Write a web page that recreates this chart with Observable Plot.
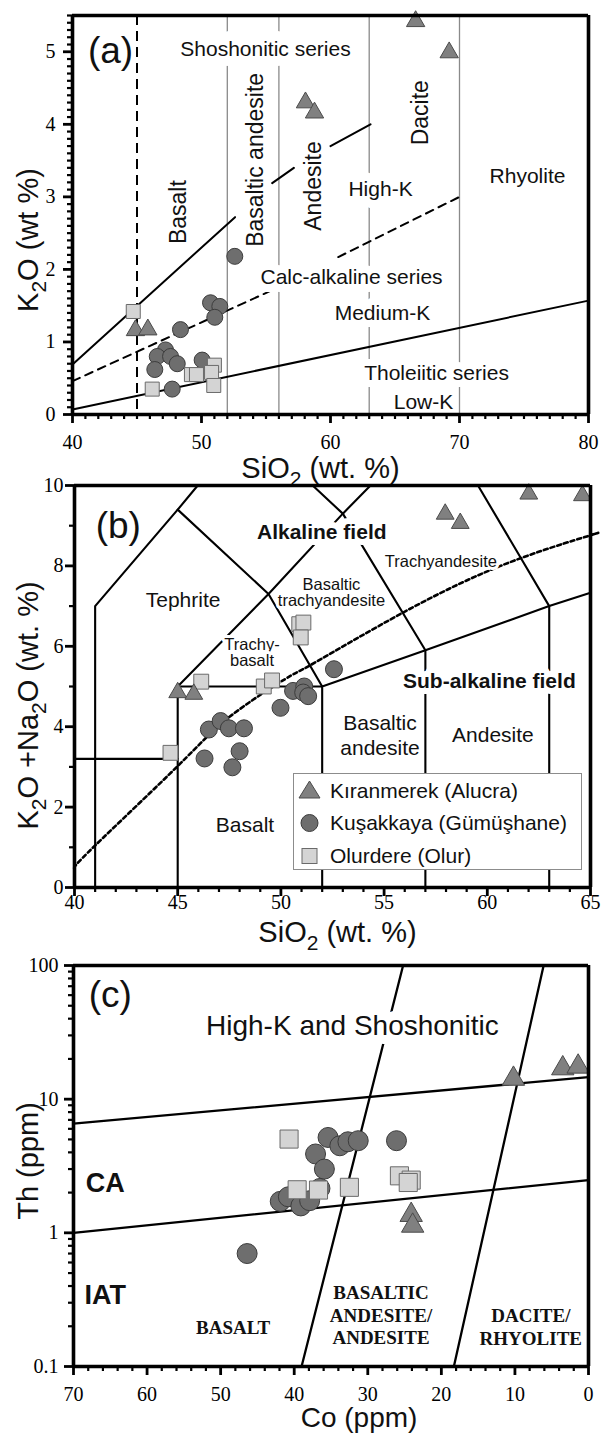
<!DOCTYPE html>
<html>
<head>
<meta charset="utf-8">
<script src="https://cdn.jsdelivr.net/npm/d3@7"></script>
<script src="https://cdn.jsdelivr.net/npm/@observablehq/plot@0.6"></script>
<style>
  html, body { margin: 0; padding: 0; background: #fff; }
  #wrap { position: relative; width: 602px; height: 1436px; overflow: hidden; }
  #wrap svg { display: block; }
  #legend { position: absolute; left: 293px; top: 773px; width: 287px; height: 95px;
            border: 1.5px solid #8c8c8c; background: #fff;
            font-family: "Liberation Sans", Arial, sans-serif; font-size: 21px; color: #111; }
  #legend .row { position: absolute; left: 0; height: 30px; display: flex; align-items: center; white-space: nowrap; }
  #legend .row span { margin-left: 5px; }
</style>
</head>
<body>
<div id="wrap"></div>
<script>
// ================= DATA =================
// ---- Panel (a): K2O vs SiO2 ----
const aTriSiO2 = [66.6, 69.2, 58.06, 58.76, 44.88, 45.84];
const aTriK2O  = [5.42, 4.99, 4.30, 4.16, 1.16, 1.17];
const aCirSiO2 = [52.58, 50.70, 51.42, 51.03, 48.37, 47.21, 46.57, 47.60, 48.12, 46.38, 50.05, 47.73];
const aCirK2O  = [2.18, 1.54, 1.49, 1.34, 1.17, 0.89, 0.80, 0.80, 0.70, 0.62, 0.75, 0.35];
const aSqSiO2  = [44.71, 46.18, 49.22, 49.61, 51.0, 50.78, 50.95];
const aSqK2O   = [1.42, 0.35, 0.55, 0.55, 0.68, 0.58, 0.40];
// series boundaries (NaN = gap)
const aShoSiO2   = [40, 52.6, NaN, 55.48, 57.16, NaN, 60.0, 63.1];
const aShoK2O    = [0.69, 2.72, NaN, 3.19, 3.40, NaN, 3.70, 4.0];
const aHighKSiO2 = [40, 55.3, NaN, 60.6, 70];
const aHighKK2O  = [0.46, 1.70, NaN, 2.17, 3.0];
const aLowKSiO2  = [40, 80];
const aLowKK2O   = [0.07, 1.57];
const aRockSiO2  = [52, 56, 63, 70];
const aUltraSiO2 = [45];
const aXTicks = [40, 50, 60, 70, 80];
const aXMinor = [41,42,43,44,45,46,47,48,49,51,52,53,54,55,56,57,58,59,61,62,63,64,65,66,67,68,69,71,72,73,74,75,76,77,78,79];
const aYTicks = [0, 1, 2, 3, 4, 5];
const aYMinor = [0.1,0.2,0.3,0.4,0.5,0.6,0.7,0.8,0.9,1.1,1.2,1.3,1.4,1.5,1.6,1.7,1.8,1.9,2.1,2.2,2.3,2.4,2.5,2.6,2.7,2.8,2.9,3.1,3.2,3.3,3.4,3.5,3.6,3.7,3.8,3.9,4.1,4.2,4.3,4.4,4.5,4.6,4.7,4.8,4.9,5.1,5.2,5.3,5.4,5.5];
const aLabelText = ["Shoshonitic series", "High-K", "Rhyolite", "Calc-alkaline series", "Medium-K", "Tholeiitic series", "Low-K"];
const aLabelX    = [54.96, 63.88, 75.27, 61.63, 64.03, 68.22, 67.21];
const aLabelY    = [5.03, 3.10, 3.28, 1.89, 1.40, 0.57, 0.17];
const aLabelHalo = [20, 17, 8, 16, 14, 14, 5];
const aRotText = ["Basalt", "Basaltic andesite", "Andesite", "Dacite"];
const aRotX    = [48.2, 54.19, 58.68, 66.98];
const aRotY    = [2.79, 3.51, 3.15, 4.16];

// ---- Panel (b): TAS ----
const bTriSiO2 = [45.0, 45.78, 57.96, 58.69, 62.01, 64.61];
const bTriTA   = [4.85, 4.81, 9.29, 9.06, 9.79, 9.75];
const bCirSiO2 = [46.30, 46.51, 47.08, 47.48, 48.21, 48.0, 47.65, 49.98, 50.59, 51.13, 51.08, 51.32, 52.57];
const bCirTA   = [3.21, 3.93, 4.14, 3.96, 3.96, 3.39, 2.99, 4.47, 4.89, 5.0, 4.85, 4.76, 5.43];
const bSqSiO2  = [44.65, 46.14, 49.17, 49.57, 50.89, 51.09, 50.96];
const bSqTA    = [3.35, 5.12, 5.0, 5.15, 6.55, 6.59, 6.22];
// TAS boundaries (SiO2, Na2O+K2O vertices)
const tas1 = [[41,0],[41,7],[45,9.4],[45.97,10]];
const tas2 = [[40,3.2],[45,3.2]];
const tas3 = [[45,0],[45,5],[52,5]];
const tas4 = [[45,5],[49.4,7.3],[53,9.3],[54.34,10]];
const tas5 = [[45,9.4],[49.4,7.3],[52,5]];
const tas6 = [[52,0],[52,5],[57,5.9],[63,7],[65,7.33]];
const tas7 = [[57,0],[57,5.9],[53,9.3],[51.54,10]];
const tas8 = [[63,0],[63,7],[59.55,10]];
// alkaline / sub-alkaline divide
const bDivSiO2 = [39.98, 40.95, 45.0, 47.35, 49.78, 50.92, 52.21, 55.78, 60.64, 64.93, 65];
const bDivTA   = [0.48, 1.02, 3.02, 4.18, 5.05, 5.39, 5.76, 6.8, 8.0, 8.75, 8.77];
const bXTicks = [40, 45, 50, 55, 60, 65];
const bXMinor = [41,42,43,44,46,47,48,49,51,52,53,54,56,57,58,59,61,62,63,64];
const bYTicks = [0, 2, 4, 6, 8, 10];
const bYMinor = [1, 3, 5, 7, 9];
const bLabelText = ["Tephrite", "Basaltic\nandesite", "Andesite", "Basalt"];
const bLabelX    = [45.26, 54.8, 60.27, 48.26];
const bLabelY    = [7.17, 3.8, 3.81, 1.58];
const bBoldText  = ["Alkaline field", "Sub-alkaline field"];
const bBoldX     = [51.98, 60.1];
const bBoldY     = [8.84, 5.12];
const bSmallText = ["Basaltic\ntrachyandesite", "Trachyandesite", "Trachy-\nbasalt"];
const bSmallX    = [52.45, 57.75, 48.6];
const bSmallY    = [7.33, 8.11, 5.84];

// ---- Panel (c): Th vs Co ----
const cTriCo = [10.2, 3.5, 1.41, 24.1, 23.9];
const cTriTh = [14.2, 17.0, 17.5, 1.36, 1.13];
const cCirCo = [46.4, 41.9, 40.8, 39.1, 37.9, 36.5, 37.1, 35.9, 35.4, 33.8, 32.7, 31.3, 26.1];
const cCirTh = [0.70, 1.72, 1.86, 1.59, 1.74, 2.15, 3.89, 3.0, 5.17, 4.48, 4.8, 4.89, 4.89];
const cSqCo  = [40.7, 39.6, 36.7, 32.5, 25.7, 24.1, 24.5];
const cSqTh  = [5.03, 2.1, 2.09, 2.19, 2.67, 2.48, 2.38];
const cUpperCo = [70, 0],  cUpperTh = [6.56, 14.6];
const cLowerCo = [70, 0],  cLowerTh = [1.0, 2.48];
const cSteep1Co = [39.0, 25.2], cSteep1Th = [0.1, 100];
const cSteep2Co = [18.3, 6.1],  cSteep2Th = [0.1, 100];
const cXTicks = [70, 60, 50, 40, 30, 20, 10, 0];
const cXMinor = [68,66,64,62,58,56,54,52,48,46,44,42,38,36,34,32,28,26,24,22,18,16,14,12,8,6,4,2];
const cYTicks = [0.1, 1, 10, 100];
const cYMinor = [0.2,0.3,0.4,0.5,0.6,0.7,0.8,0.9,2,3,4,5,6,7,8,9,20,30,40,50,60,70,80,90];
const cRockText = ["BASALT", "BASALTIC\nANDESITE/\nANDESITE", "DACITE/\nRHYOLITE"];
const cRockCo   = [48.3, 28.2, 7.84];
const cRockTh   = [0.20, 0.246, 0.2];
const cSeriesText = ["CA", "IAT"];
const cSeriesCo   = [65.7, 65.7];
const cSeriesTh   = [2.34, 0.342];

// legend
const legendNames = ["Kıranmerek (Alucra)", "Kuşakkaya (Gümüşhane)", "Olurdere (Olur)"];

// ================= HELPERS =================
const zip = (xs, ys) => xs.map((x, i) => ({x, y: ys[i]}));
const pairs = (arr) => arr.map(([x, y]) => ({x, y}));
const labels = (t, xs, ys, extra) => t.map((text, i) => Object.assign({text, x: xs[i], y: ys[i]}, extra ? {h: extra[i]} : {}));
const SANS = "'Liberation Sans', Arial, sans-serif";
const SERIF = "'Liberation Serif', 'Times New Roman', serif";
const TRI = {fill: "#808080", stroke: "#4a4a4a", strokeWidth: 1};
const CIR = {fill: "#6e6e6e", stroke: "#3c3c3c", strokeWidth: 1};
const SQ  = {fill: "#d4d4d4", stroke: "#6a6a6a", strokeWidth: 1};
const TITLE = {fontFamily: SANS, fontSize: 29, fill: "#111", textAnchor: "middle", lineAnchor: "middle"};

// Frame + outward ticks as rules; tick length converted from pixels with a scale
// mirroring the plot's own scale (same domain/range), labels via axis marks.
function frameAndAxes({dims, xDomain, yDomain, yLog, xMajor, xMinor, yMajor, yMinor, xPad, yPad}) {
  const {width, height, mt, mb, ml, mr} = dims;
  const xs = d3.scaleLinear(xDomain, [ml, width - mr]);
  const ys = (yLog ? d3.scaleLog() : d3.scaleLinear()).domain(yDomain).range([height - mb, mt]);
  const maj = 9, min = 5;
  const x0 = xDomain[0], y0 = yDomain[0];
  const yBelow = len => ys.invert(height - mb + len);
  const xLeft = len => xs.invert(ml - len);
  const f = d => String(d);
  return [
    Plot.ruleX(xMinor, {x: d => d, y1: y0, y2: yBelow(min), stroke: "black", strokeWidth: 2.2}),
    Plot.ruleX(xMajor, {x: d => d, y1: y0, y2: yBelow(maj), stroke: "black", strokeWidth: 2.8}),
    Plot.ruleY(yMinor, {y: d => d, x1: x0, x2: xLeft(min), stroke: "black", strokeWidth: 2.2}),
    Plot.ruleY(yMajor, {y: d => d, x1: x0, x2: xLeft(maj), stroke: "black", strokeWidth: 2.8}),
    Plot.ruleX(xDomain, {stroke: "black", strokeWidth: 3.6}),
    Plot.ruleY(yDomain, {stroke: "black", strokeWidth: 3.6}),
    Plot.axisX({ticks: xMajor, tickSize: 0, tickPadding: maj + xPad, tickFormat: f, label: null}),
    Plot.axisY({ticks: yMajor, tickSize: 0, tickPadding: maj + yPad, tickFormat: f, label: null})
  ];
}

function subscripts(svg, px) {
  const ns = "http://www.w3.org/2000/svg";
  svg.querySelectorAll("text").forEach(t => {
    if (t.querySelector("tspan")) return;
    const s = t.textContent;
    if (!s.includes("₂")) return;
    const parts = s.split("₂");
    t.textContent = "";
    parts.forEach((p, i) => {
      if (i === 0) { t.appendChild(document.createTextNode(p)); return; }
      const sub = document.createElementNS(ns, "tspan");
      sub.setAttribute("dy", String(0.3 * px));
      sub.setAttribute("font-size", String(Math.round(px * 0.72)));
      sub.textContent = "2";
      t.appendChild(sub);
      const rest = document.createElementNS(ns, "tspan");
      rest.setAttribute("dy", String(-0.3 * px));
      rest.textContent = p;
      t.appendChild(rest);
    });
  });
}

const baseStyle = {fontFamily: SERIF, fontSize: "20px", color: "black", background: "white", overflow: "visible"};

// ================= PANEL A =================
const dimsA = {width: 602, height: 478, mt: 15, mb: 64, ml: 72, mr: 14};
const A = Plot.plot({
  width: dimsA.width, height: dimsA.height,
  marginTop: dimsA.mt, marginBottom: dimsA.mb, marginLeft: dimsA.ml, marginRight: dimsA.mr,
  x: {domain: [40, 80]},
  y: {domain: [0, 5.5]},
  style: baseStyle,
  marks: [
    Plot.ruleX(aRockSiO2, {stroke: "#8a8a8a", strokeWidth: 1.3}),
    Plot.ruleX(aUltraSiO2, {stroke: "black", strokeWidth: 2, strokeDasharray: "10,6"}),
    Plot.line(zip(aLowKSiO2, aLowKK2O), {x: "x", y: "y", stroke: "black", strokeWidth: 2}),
    Plot.line(zip(aHighKSiO2, aHighKK2O), {x: "x", y: "y", stroke: "black", strokeWidth: 2, strokeDasharray: "8,6"}),
    Plot.line(zip(aShoSiO2, aShoK2O), {x: "x", y: "y", stroke: "black", strokeWidth: 2}),
    Plot.text(labels(aLabelText, aLabelX, aLabelY, aLabelHalo), {x: "x", y: "y", text: "text", fontFamily: SANS, fontSize: 21, fill: "#111", stroke: "white", strokeWidth: d => d.h}),
    Plot.text(labels(aRotText, aRotX, aRotY), {x: "x", y: "y", text: "text", rotate: -90, fontFamily: SANS, fontSize: 23, fill: "#111"}),
    Plot.text(["(a)"], {x: 42.95, y: 5.01, text: d => d, fontFamily: SANS, fontSize: 37, fill: "#111"}),
    Plot.dot(zip(aCirSiO2, aCirK2O), {x: "x", y: "y", symbol: "circle", r: 8, ...CIR}),
    Plot.dot(zip(aSqSiO2, aSqK2O), {x: "x", y: "y", symbol: "square", r: 7.9, ...SQ}),
    Plot.dot(zip(aTriSiO2, aTriK2O), {x: "x", y: "y", symbol: "triangle", r: 6.8, ...TRI}),
    ...frameAndAxes({dims: dimsA, xDomain: [40, 80], yDomain: [0, 5.5], xMajor: aXTicks, xMinor: aXMinor, yMajor: aYTicks, yMinor: aYMinor, xPad: 11, yPad: 8}),
    Plot.text(["K₂O (wt %)"], {frameAnchor: "left", rotate: -90, dx: -44, dy: 25, ...TITLE}),
    Plot.text(["SiO₂ (wt. %)"], {frameAnchor: "bottom", dx: -10, dy: 54, ...TITLE})
  ]
});

// ================= PANEL B =================
const tasLines = [tas1, tas2, tas3, tas4, tas5, tas6, tas7, tas8];
const dimsB = {width: 602, height: 472, mt: 7, mb: 63, ml: 74, mr: 12};
const B = Plot.plot({
  width: dimsB.width, height: dimsB.height,
  marginTop: dimsB.mt, marginBottom: dimsB.mb, marginLeft: dimsB.ml, marginRight: dimsB.mr,
  x: {domain: [40, 65]},
  y: {domain: [0, 10]},
  style: baseStyle,
  marks: [
    ...tasLines.map(l => Plot.line(pairs(l), {x: "x", y: "y", stroke: "black", strokeWidth: 2.1})),
    Plot.line(zip(bDivSiO2, bDivTA), {x: "x", y: "y", stroke: "black", strokeWidth: 2.6, strokeDasharray: "4,3", curve: "natural"}),
    Plot.text(labels(bLabelText, bLabelX, bLabelY), {x: "x", y: "y", text: "text", fontFamily: SANS, fontSize: 21, lineHeight: 1.2, fill: "#111", stroke: "white", strokeWidth: 8}),
    Plot.text(labels(bBoldText, bBoldX, bBoldY), {x: "x", y: "y", text: "text", fontFamily: SANS, fontSize: 21, fontWeight: "bold", fill: "#111", stroke: "white", strokeWidth: 12}),
    Plot.text(labels(bSmallText, bSmallX, bSmallY), {x: "x", y: "y", text: "text", fontFamily: SANS, fontSize: 16.5, lineHeight: 1.0, fill: "#111", stroke: "white", strokeWidth: 6}),
    Plot.text(["(b)"], {x: 42.12, y: 8.98, text: d => d, fontFamily: SANS, fontSize: 37, fill: "#111"}),
    Plot.dot(zip(bCirSiO2, bCirTA), {x: "x", y: "y", symbol: "circle", r: 8.5, ...CIR}),
    Plot.dot(zip(bSqSiO2, bSqTA), {x: "x", y: "y", symbol: "square", r: 8.4, ...SQ}),
    Plot.dot(zip(bTriSiO2, bTriTA), {x: "x", y: "y", symbol: "triangle", r: 6.6, ...TRI}),
    ...frameAndAxes({dims: dimsB, xDomain: [40, 65], yDomain: [0, 10], xMajor: bXTicks, xMinor: bXMinor, yMajor: bYTicks, yMinor: bYMinor, xPad: -2, yPad: 2}),
    Plot.text(["K₂O +Na₂O (wt. %)"], {frameAnchor: "left", rotate: -90, dx: -46, dy: 19, ...TITLE}),
    Plot.text(["SiO₂ (wt. %)"], {frameAnchor: "bottom", dx: 5, dy: 45, ...TITLE})
  ]
});

// ================= PANEL C =================
const dimsC = {width: 602, height: 486, mt: 15, mb: 70, ml: 73, mr: 14};
const C = Plot.plot({
  width: dimsC.width, height: dimsC.height,
  marginTop: dimsC.mt, marginBottom: dimsC.mb, marginLeft: dimsC.ml, marginRight: dimsC.mr,
  x: {domain: [70, 0]},
  y: {type: "log", domain: [0.1, 100]},
  style: baseStyle,
  marks: [
    Plot.line(zip(cUpperCo, cUpperTh), {x: "x", y: "y", stroke: "black", strokeWidth: 2.3}),
    Plot.line(zip(cLowerCo, cLowerTh), {x: "x", y: "y", stroke: "black", strokeWidth: 2.3}),
    Plot.line(zip(cSteep1Co, cSteep1Th), {x: "x", y: "y", stroke: "black", strokeWidth: 2.3}),
    Plot.line(zip(cSteep2Co, cSteep2Th), {x: "x", y: "y", stroke: "black", strokeWidth: 2.3}),
    Plot.text(["High-K and Shoshonitic"], {x: 32.1, y: 35.0, text: d => d, fontFamily: SANS, fontSize: 28, fill: "#111", stroke: "white", strokeWidth: 18}),
    Plot.text(labels(cSeriesText, cSeriesCo, cSeriesTh), {x: "x", y: "y", text: "text", fontFamily: SANS, fontSize: 27, fontWeight: "bold", fill: "#111"}),
    Plot.text(labels(cRockText, cRockCo, cRockTh), {x: "x", y: "y", text: "text", fontFamily: SERIF, fontSize: 19, fontWeight: "bold", lineHeight: 1.2, fill: "#111", stroke: "white", strokeWidth: 3}),
    Plot.text(["(c)"], {x: 65.0, y: 60, text: d => d, fontFamily: SANS, fontSize: 37, fill: "#111"}),
    Plot.dot(zip(cCirCo, cCirTh), {x: "x", y: "y", symbol: "circle", r: 10, ...CIR}),
    Plot.dot(zip(cSqCo, cSqTh), {x: "x", y: "y", symbol: "square", r: 10.2, ...SQ}),
    Plot.dot(zip(cTriCo, cTriTh), {x: "x", y: "y", symbol: "triangle", r: 8.3, ...TRI}),
    ...frameAndAxes({dims: dimsC, xDomain: [70, 0], yDomain: [0.1, 100], yLog: true, xMajor: cXTicks, xMinor: cXMinor, yMajor: cYTicks, yMinor: cYMinor, xPad: 11, yPad: 6}),
    Plot.text(["Th (ppm)"], {frameAnchor: "left", rotate: -90, dx: -45, dy: -5, ...TITLE}),
    Plot.text(["Co (ppm)"], {frameAnchor: "bottom", dx: 28, dy: 52, ...TITLE, fontSize: 28})
  ]
});

const wrap = document.getElementById("wrap");
[A, B, C].forEach(svg => { subscripts(svg, 29); wrap.appendChild(svg); });

// ================= LEGEND (panel b) =================
const legend = document.createElement("div");
legend.id = "legend";
const legendSymbols = [
  `<path d="M15.5,5 L26,22 L5,22 Z" fill="#808080" stroke="#4a4a4a" stroke-width="1"/>`,
  `<circle cx="15.5" cy="15" r="8.5" fill="#6e6e6e" stroke="#3c3c3c" stroke-width="1"/>`,
  `<rect x="8" y="7.5" width="15" height="15" fill="#d4d4d4" stroke="#6a6a6a" stroke-width="1"/>`
];
const legendTops = [2, 34, 67];
legendNames.forEach((name, i) => {
  const row = document.createElement("div");
  row.className = "row";
  row.style.top = legendTops[i] + "px";
  row.innerHTML = `<svg width="31" height="30" viewBox="0 0 31 30">${legendSymbols[i]}</svg><span>${name}</span>`;
  legend.appendChild(row);
});
wrap.appendChild(legend);
</script>
</body>
</html>
